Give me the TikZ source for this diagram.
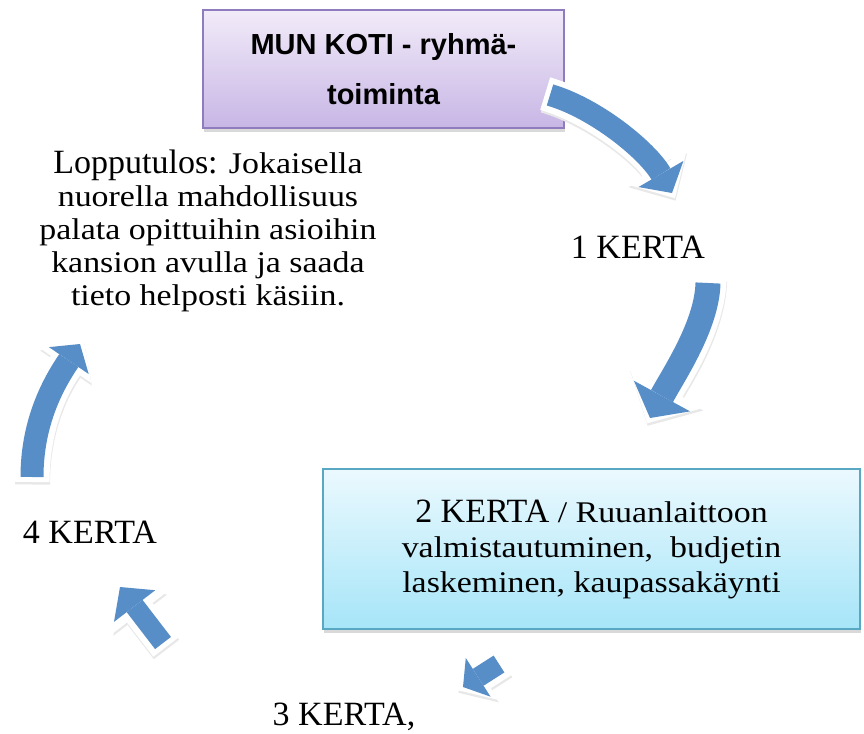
\documentclass[tikz,border=0pt]{standalone}
\usepackage{fontspec}
\setmainfont{Liberation Serif}
\newfontfamily\widefont[FakeStretch=1.13]{Liberation Serif}
\newfontfamily\headfont{Liberation Sans}
\usetikzlibrary{arrows.meta, shadows}

\definecolor{arrowblue}{RGB}{88,142,199}
\definecolor{lilacborder}{RGB}{142,124,190}
\definecolor{lilactop}{RGB}{242,235,249}
\definecolor{lilacbottom}{RGB}{199,182,229}
\definecolor{cyanborder}{RGB}{88,168,196}
\definecolor{cyantop}{RGB}{235,249,254}
\definecolor{cyanbottom}{RGB}{166,229,248}

\newcommand{\kertafont}{\rmfamily\fontsize{34}{36}\selectfont}
\newcommand{\plainfont}{\widefont\fontsize{30}{33}\selectfont}

\tikzset{
  bentarrow/.style n args={3}{draw=arrowblue, line width=#1,
    -{Triangle[length=#3, width=#2, line width=0pt]},
    preaction={draw=black!9, line width=#1+12pt, transform canvas={xshift=0.5pt, yshift=-2.5pt},
      -{Triangle[length=#3, width=#2, line width=0pt, scale length=1.6, scale width=1.3]},
      shorten >=-6pt, shorten <=-5pt},
    preaction={draw=white, line width=#1+12pt,
      -{Triangle[length=#3, width=#2, line width=0pt, scale length=1.6, scale width=1.3]},
      shorten >=-6pt, shorten <=-5pt}},
}

\begin{document}
\begin{tikzpicture}[x=1pt, y=-1pt,
    titlebox/.style={draw=lilacborder, line width=1.5pt, top color=lilactop, bottom color=lilacbottom,
      minimum width=361pt, minimum height=118pt, align=center,
      font=\headfont\bfseries\fontsize{29}{50}\selectfont,
      drop shadow={shadow xshift=1pt, shadow yshift=-4pt, opacity=.3}},
    sessionbox/.style={draw=cyanborder, line width=1.5pt, top color=cyantop, bottom color=cyanbottom,
      minimum width=537pt, minimum height=160pt, align=center,
      font=\widefont\fontsize{30}{35}\selectfont,
      drop shadow={shadow xshift=1pt, shadow yshift=-4pt, opacity=.3}},
    kerta/.style={font=\kertafont, anchor=base, inner sep=0pt}]
    \useasboundingbox (0,0) rectangle (864,733);

    \node (koti) [titlebox] at (383.5,69) {MUN KOTI - ryhmä-\\toiminta};
    \node (kerta2) [sessionbox] at (591.5,549)
        {{\kertafont 2 KERTA} / Ruuanlaittoon\\valmistautuminen,\ \ budjetin\\laskeminen, kaupassakäynti};
    \node (kerta1) [kerta] at (638,258) {1 KERTA};
    \node (kerta3) [kerta] at (344,725) {3 KERTA,};
    \node (kerta4) [kerta] at (90,543) {4 KERTA};
    \node (tulos) [align=center, font=\plainfont] at (208,231)
        {{\kertafont Lopputulos:} Jokaisella\\nuorella mahdollisuus\\palata opittuihin asioihin\\kansion avulla ja saada\\tieto helposti käsiin.};

    % arrow ends
    \coordinate (a1s) at (550,95);  \coordinate (a1e) at (672,193);
    \coordinate (a2s) at (708,283); \coordinate (a2e) at (650,418);
    \coordinate (a3s) at (499,664); \coordinate (a3e) at (463,687);
    \coordinate (a4s) at (163,643); \coordinate (a4e) at (120,587);
    \coordinate (a5s) at (32,477);  \coordinate (a5e) at (80,344);

    \path [bentarrow={22pt}{52pt}{22pt}] (a1s) .. controls (595,108) and (647,150) .. (a1e);
    \path [bentarrow={25pt}{64pt}{25pt}] (a2s) .. controls (707,325) and (674,374) .. (a2e);
    \path [bentarrow={20pt}{46pt}{18pt}] (a3s) -- (a3e);
    \path [bentarrow={20pt}{52pt}{24pt}] (a4s) -- (a4e);
    \path [bentarrow={23pt}{48pt}{20pt}] (a5s) .. controls (32,420) and (55,381) .. (a5e);
\end{tikzpicture}
\end{document}
